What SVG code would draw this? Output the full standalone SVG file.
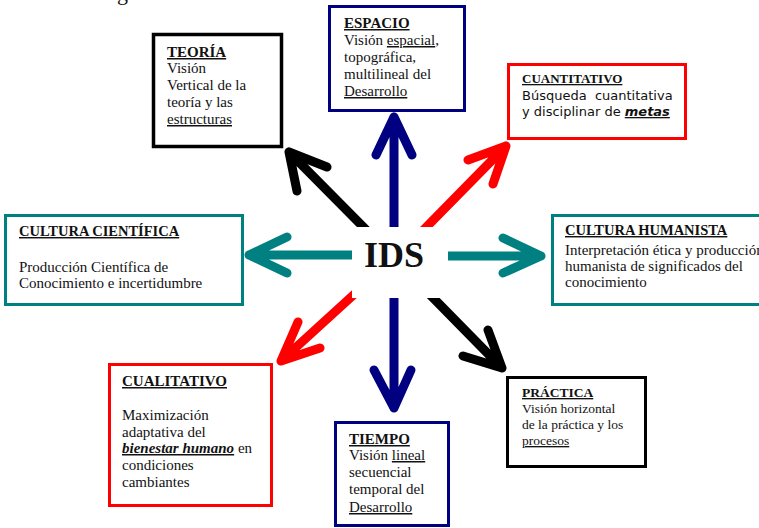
<svg xmlns="http://www.w3.org/2000/svg" width="759" height="528" viewBox="0 0 759 528">
<style>
.box{fill:#fff;stroke-width:3}
.t{font-family:"Liberation Serif","Times New Roman",serif;font-size:15px;fill:#111}
.h{font-weight:bold;text-decoration:underline}
.u{text-decoration:underline}
.bi{font-weight:bold;font-style:italic;text-decoration:underline}
.s{font-family:"DejaVu Sans",Verdana,sans-serif;font-size:13px;fill:#111;white-space:pre}
.arr{fill:none;stroke-width:9;stroke-linecap:round;stroke-linejoin:round}
</style>
<rect width="759" height="528" fill="#fff"/>
<text class="t" x="117" y="0" style="font-size:22px">g</text>
<g id="connectors">
<path class="arr" stroke="#000080" d="M394,262 L394,117 M376,155 L394,117 L412,155"/>
<path class="arr" stroke="#000080" d="M394,262 L394,408 M374,370 L394,408 L411,370"/>
<path class="arr" stroke="#008080" d="M400,255 L249,255 M287,237 L249,255 L287,273"/>
<path class="arr" stroke="#008080" d="M400,256 L541,256 M503,238 L541,256 L503,273"/>
<path class="arr" stroke="#000000" d="M394,258 L289,152 M327,167 L289,152 L297,191"/>
<path class="arr" stroke="#FF0000" d="M394,260 L506,146 M468,160 L506,146 L493,184"/>
<path class="arr" stroke="#FF0000" d="M394,258 L281,361 M298,322 L281,361 L320,348"/>
<path class="arr" stroke="#000000" d="M394,258 L502,368 M488,330 L502,368 L463,356"/>
</g>
<g id="ids">
<rect x="352" y="227" width="96" height="71" fill="#fff"/>
<text class="t" x="394" y="267" text-anchor="middle" style="font-size:36px;font-weight:bold">IDS</text>
</g>
<g id="teoria">
<rect class="box" stroke="#000" x="153.5" y="34.5" width="128" height="112" style="stroke-width:3.5"/>
<text class="t" x="167" y="57"><tspan class="h">TEORÍA</tspan></text>
<text class="t" x="167" y="73">Visión</text>
<text class="t" x="167" y="90">Vertical de la</text>
<text class="t" x="167" y="107">teoría y las</text>
<text class="t" x="167" y="124"><tspan class="u">estructuras</tspan></text>
</g>
<g id="espacio">
<rect class="box" stroke="#000080" x="329.5" y="6.5" width="135" height="104"/>
<text class="t" x="344" y="28"><tspan class="h">ESPACIO</tspan></text>
<text class="t" x="344" y="45">Visión <tspan class="u">espacial</tspan>,</text>
<text class="t" x="344" y="62">topográfica,</text>
<text class="t" x="344" y="79">multilineal del</text>
<text class="t" x="344" y="96"><tspan class="u">Desarrollo</tspan></text>
</g>
<g id="cuantitativo">
<rect class="box" stroke="#FF0000" x="508.5" y="64.5" width="177" height="74"/>
<text class="t" x="522" y="83" style="font-size:13px"><tspan class="h">CUANTITATIVO</tspan></text>
<text class="s" x="522" y="100">Búsqueda  cuantitativa</text>
<text class="s" x="522" y="116">y disciplinar de <tspan class="bi">metas</tspan></text>
</g>
<g id="cultura-cientifica">
<rect class="box" stroke="#008080" x="5.5" y="215.5" width="237" height="89"/>
<text class="t" x="19" y="236" style="font-size:14.5px"><tspan class="h">CULTURA CIENTÍFICA</tspan></text>
<text class="t" x="19" y="272">Producción Científica de</text>
<text class="t" x="19" y="288">Conocimiento e incertidumbre</text>
</g>
<g id="cultura-humanista">
<rect class="box" stroke="#008080" x="552.5" y="215.5" width="230" height="89"/>
<text class="t" x="565" y="235" style="font-size:14.5px"><tspan class="h">CULTURA HUMANISTA</tspan></text>
<text class="t" x="565" y="255">Interpretación ética y producción</text>
<text class="t" x="565" y="271">humanista de significados del</text>
<text class="t" x="565" y="287">conocimiento</text>
</g>
<g id="cualitativo">
<rect class="box" stroke="#FF0000" x="109.5" y="364.5" width="162" height="141"/>
<text class="t" x="122" y="386"><tspan class="h">CUALITATIVO</tspan></text>
<text class="t" x="122" y="420">Maximización</text>
<text class="t" x="122" y="437">adaptativa del</text>
<text class="t" x="122" y="453"><tspan class="bi">bienestar humano</tspan> en</text>
<text class="t" x="122" y="470">condiciones</text>
<text class="t" x="122" y="487">cambiantes</text>
</g>
<g id="tiempo">
<rect class="box" stroke="#000080" x="335.5" y="422.5" width="113" height="103"/>
<text class="t" x="349" y="444"><tspan class="h">TIEMPO</tspan></text>
<text class="t" x="349" y="460">Visión <tspan class="u">lineal</tspan></text>
<text class="t" x="349" y="477">secuencial</text>
<text class="t" x="349" y="494">temporal del</text>
<text class="t" x="349" y="512"><tspan class="u">Desarrollo</tspan></text>
</g>
<g id="practica">
<rect class="box" stroke="#000" x="507.5" y="377.5" width="138" height="89"/>
<text class="t" x="522" y="397" style="font-size:13.5px"><tspan class="h">PRÁCTICA</tspan></text>
<text class="t" x="522" y="413" style="font-size:13.5px">Visión horizontal</text>
<text class="t" x="522" y="429" style="font-size:13.5px">de la práctica y los</text>
<text class="t" x="522" y="445" style="font-size:13.5px"><tspan class="u">procesos</tspan></text>
</g>
</svg>
